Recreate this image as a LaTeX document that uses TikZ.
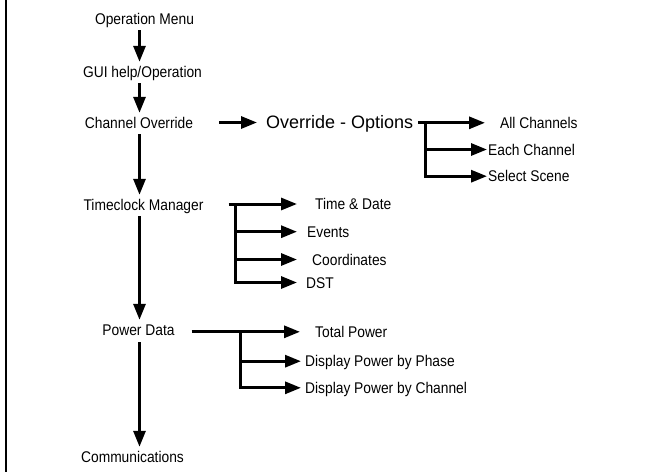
\documentclass[tikz,border=0pt]{standalone}
\usepackage{fontspec}
\setmainfont{Liberation Sans}
\newfontfamily\condfont[FakeStretch=0.89]{Liberation Sans}
\usetikzlibrary{arrows.meta,calc}
\begin{document}
\begin{tikzpicture}[x=1pt,y=-1pt,
  lbl/.style={inner sep=0pt, text height=11pt, text depth=0pt, font=\condfont\fontsize{15.5}{17}\selectfont},
  big/.style={inner sep=0pt, text height=13pt, text depth=0pt, font=\fontsize{18}{20}\selectfont},
  ln/.style={line width=3pt, line cap=rect},
  arr/.style={line width=3pt, -{Triangle[length=16pt,width=12pt]}},
  vstep/.style={arr, shorten <=6pt, shorten >=4pt},
]
\useasboundingbox (0,0) rectangle (651,472);
\draw[line width=2pt] (6,0) -- (6,472);

% main column
\node[lbl, anchor=base] (om)   at (144.5,24)  {Operation Menu};
\node[lbl, anchor=base] (gui)  at (142.5,77)  {GUI help/Operation};
\node[lbl, anchor=base] (chov) at (139,128)   {Channel Override};
\node[lbl, anchor=base] (tm)   at (143.5,210) {Timeclock Manager};
\node[lbl, anchor=base] (pd)   at (138.5,335) {Power Data};
\node[lbl, anchor=base] (comm) at (132.5,462) {Communications};

\coordinate (spine) at (139.5,0);
\draw[vstep] (om.south -| spine) -- (gui.north -| spine);
\draw[vstep] (gui.south -| spine) -- (chov.north -| spine);
\draw[vstep] (chov.south -| spine) -- (tm.north -| spine);
\draw[vstep] (tm.south -| spine) -- (pd.north -| spine);
\draw[vstep, shorten <=7pt] (pd.south -| spine) -- (comm.north -| spine);

% override options
\node[big, anchor=base west] (oo)   at (266,128.3) {Override - Options};
\node[lbl, anchor=base west] (all)  at (500,128.3) {All Channels};
\node[lbl, anchor=base west] (each) at (488,155)   {Each Channel};
\node[lbl, anchor=base west] (sel)  at (488,181.7) {Select Scene};

\draw[arr, shorten <=26pt, shorten >=9pt] (chov.east) -- (oo.west |- chov.east);
\coordinate (ob) at (425,0);
\draw[arr, shorten <=5pt, shorten >=15pt] (oo.east |- all.west) -- (all.west);
\draw[ln] (ob |- all.west) -- (ob |- sel.west);
\draw[arr, shorten >=1pt] (ob |- each.west) -- (each.west);
\draw[arr, shorten >=1pt] (ob |- sel.west) -- (sel.west);

% timeclock
\node[lbl, anchor=base west] (td)  at (315,209.5) {Time \& Date};
\node[lbl, anchor=base west] (ev)  at (307,237.2) {Events};
\node[lbl, anchor=base west] (co)  at (312,265)   {Coordinates};
\node[lbl, anchor=base west] (dst) at (306,288)   {DST};

\coordinate (tb) at (235,0);
\draw[arr, shorten <=25pt, shorten >=18pt] (tm.east |- td.west) -- (td.west);
\draw[ln] (tb |- td.west) -- (tb |- dst.west);
\draw[arr, shorten >=10pt] (tb |- ev.west) -- (ev.west);
\draw[arr, shorten >=15pt] (tb |- co.west) -- (co.west);
\draw[arr, shorten >=9pt] (tb |- dst.west) -- (dst.west);

% power data
\node[lbl, anchor=base west] (tp) at (315,337.3) {Total Power};
\node[lbl, anchor=base west] (ph) at (305,366.7) {Display Power by Phase};
\node[lbl, anchor=base west] (ch) at (305,393.3) {Display Power by Channel};

\coordinate (pb) at (240,0);
\draw[arr, shorten <=17pt, shorten >=15pt] (pd.east |- tp.west) -- (tp.west);
\draw[ln] (pb |- tp.west) -- (pb |- ch.west);
\draw[arr, shorten >=4pt] (pb |- ph.west) -- (ph.west);
\draw[arr, shorten >=4pt] (pb |- ch.west) -- (ch.west);
\end{tikzpicture}
\end{document}
